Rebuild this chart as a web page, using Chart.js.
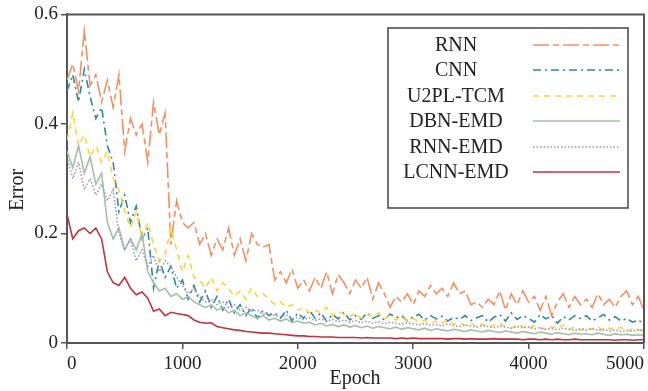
<!DOCTYPE html>
<html>
<head>
<meta charset="utf-8">
<script src="https://cdn.jsdelivr.net/npm/chart.js@4"></script>
<style>
  html, body { margin: 0; padding: 0; background: #fff; }
  #wrap { width: 648px; height: 391px; position: relative; }
</style>
</head>
<body>
<div id="wrap"><canvas id="grafico"></canvas></div>
<script>
// epochs sampled every 50
const epocas = [
    0, 50, 100, 150, 200, 250, 300, 350, 400, 450,
    500, 550, 600, 650, 700, 750, 800, 850, 900, 950,
    1000, 1050, 1100, 1150, 1200, 1250, 1300, 1350, 1400, 1450,
    1500, 1550, 1600, 1650, 1700, 1750, 1800, 1850, 1900, 1950,
    2000, 2050, 2100, 2150, 2200, 2250, 2300, 2350, 2400, 2450,
    2500, 2550, 2600, 2650, 2700, 2750, 2800, 2850, 2900, 2950,
    3000, 3050, 3100, 3150, 3200, 3250, 3300, 3350, 3400, 3450,
    3500, 3550, 3600, 3650, 3700, 3750, 3800, 3850, 3900, 3950,
    4000, 4050, 4100, 4150, 4200, 4250, 4300, 4350, 4400, 4450,
    4500, 4550, 4600, 4650, 4700, 4750, 4800, 4850, 4900, 4950,
    5000
];

const nomes = ['RNN', 'CNN', 'U2PL-TCM', 'DBN-EMD', 'RNN-EMD', 'LCNN-EMD'];

const erroRNN = [
    0.48, 0.51, 0.46, 0.57, 0.47, 0.49, 0.44, 0.48, 0.43, 0.49,
    0.35, 0.41, 0.38, 0.40, 0.33, 0.44, 0.38, 0.42, 0.18, 0.26,
    0.22, 0.21, 0.22, 0.18, 0.20, 0.16, 0.19, 0.17, 0.21, 0.16,
    0.19, 0.15, 0.20, 0.18, 0.175, 0.18, 0.115, 0.13, 0.11, 0.135,
    0.10, 0.115, 0.095, 0.12, 0.10, 0.13, 0.09, 0.125, 0.11, 0.09,
    0.115, 0.10, 0.12, 0.08, 0.11, 0.09, 0.065, 0.085, 0.075, 0.09,
    0.07, 0.095, 0.085, 0.105, 0.09, 0.10, 0.085, 0.11, 0.09, 0.095,
    0.07, 0.075, 0.065, 0.08, 0.07, 0.095, 0.06, 0.09, 0.07, 0.095,
    0.075, 0.085, 0.06, 0.085, 0.05, 0.075, 0.09, 0.065, 0.085, 0.07,
    0.08, 0.065, 0.09, 0.07, 0.08, 0.065, 0.085, 0.095, 0.07, 0.085,
    0.06
];
const erroCNN = [
    0.46, 0.49, 0.44, 0.50, 0.45, 0.41, 0.43, 0.36, 0.33, 0.24,
    0.27, 0.22, 0.25, 0.19, 0.21, 0.10, 0.15, 0.12, 0.14, 0.10,
    0.115, 0.08, 0.105, 0.075, 0.095, 0.065, 0.085, 0.06, 0.08, 0.055,
    0.07, 0.05, 0.065, 0.045, 0.06, 0.05, 0.055, 0.045, 0.06, 0.04,
    0.055, 0.045, 0.06, 0.045, 0.055, 0.04, 0.052, 0.044, 0.056, 0.042,
    0.05, 0.043, 0.055, 0.045, 0.05, 0.042, 0.053, 0.046, 0.05, 0.04,
    0.048, 0.052, 0.042, 0.05, 0.044, 0.049, 0.04, 0.047, 0.043, 0.05,
    0.041, 0.046, 0.05, 0.038, 0.047, 0.052, 0.04, 0.055, 0.043, 0.05,
    0.045, 0.038, 0.052, 0.044, 0.05, 0.036, 0.048, 0.042, 0.05, 0.045,
    0.05, 0.04, 0.046, 0.052, 0.042, 0.048, 0.04, 0.045, 0.038, 0.042,
    0.035
];
const erroU2PL = [
    0.37, 0.42, 0.36, 0.38, 0.34, 0.36, 0.33, 0.35, 0.30, 0.28,
    0.24, 0.21, 0.24, 0.19, 0.22, 0.18, 0.15, 0.16, 0.21, 0.17,
    0.13, 0.16, 0.12, 0.115, 0.10, 0.12, 0.095, 0.11, 0.10, 0.085,
    0.095, 0.08, 0.10, 0.085, 0.09, 0.08, 0.07, 0.075, 0.065, 0.07,
    0.06, 0.065, 0.055, 0.06, 0.055, 0.065, 0.05, 0.058, 0.052, 0.048,
    0.055, 0.045, 0.052, 0.048, 0.055, 0.044, 0.05, 0.042, 0.048, 0.04,
    0.045, 0.038, 0.042, 0.035, 0.04, 0.036, 0.042, 0.034, 0.038, 0.032,
    0.036, 0.03, 0.035, 0.028, 0.033, 0.036, 0.03, 0.027, 0.034, 0.03,
    0.026, 0.032, 0.028, 0.024, 0.03, 0.026, 0.033, 0.025, 0.029, 0.023,
    0.028, 0.025, 0.03, 0.022, 0.027, 0.024, 0.029, 0.021, 0.026, 0.023,
    0.025
];
const erroDBN = [
    0.35, 0.32, 0.36, 0.31, 0.34, 0.29, 0.31, 0.22, 0.19, 0.21,
    0.17, 0.19, 0.17, 0.20, 0.13, 0.11, 0.095, 0.10, 0.085, 0.09,
    0.08, 0.085, 0.075, 0.07, 0.065, 0.07, 0.06, 0.065, 0.055, 0.06,
    0.05, 0.055, 0.05, 0.045, 0.05, 0.042, 0.045, 0.04, 0.044, 0.037,
    0.04, 0.036, 0.038, 0.033, 0.036, 0.031, 0.034, 0.03, 0.033, 0.029,
    0.032, 0.028, 0.031, 0.027, 0.03, 0.028, 0.026, 0.029, 0.025, 0.028,
    0.026, 0.024, 0.027, 0.023, 0.026, 0.024, 0.022, 0.025, 0.023, 0.021,
    0.024, 0.022, 0.02, 0.023, 0.021, 0.019, 0.022, 0.02, 0.018, 0.021,
    0.019, 0.017, 0.02, 0.018, 0.016, 0.019, 0.017, 0.015, 0.018, 0.016,
    0.017, 0.015, 0.018, 0.016, 0.014, 0.017, 0.015, 0.016, 0.014, 0.015,
    0.014
];
const erroRNNEMD = [
    0.34, 0.30, 0.33, 0.28, 0.30, 0.27, 0.29, 0.26, 0.28, 0.20,
    0.17, 0.19, 0.15, 0.17, 0.14, 0.16, 0.13, 0.15, 0.14, 0.12,
    0.105, 0.09, 0.10, 0.085, 0.075, 0.08, 0.07, 0.075, 0.065, 0.07,
    0.06, 0.065, 0.058, 0.06, 0.052, 0.055, 0.05, 0.048, 0.052, 0.045,
    0.047, 0.043, 0.046, 0.041, 0.044, 0.04, 0.043, 0.039, 0.042, 0.038,
    0.041, 0.037, 0.04, 0.036, 0.039, 0.035, 0.038, 0.036, 0.034, 0.037,
    0.035, 0.033, 0.036, 0.032, 0.034, 0.031, 0.035, 0.032, 0.03, 0.033,
    0.031, 0.029, 0.032, 0.03, 0.028, 0.031, 0.029, 0.027, 0.03, 0.028,
    0.029, 0.026, 0.028, 0.025, 0.027, 0.024, 0.027, 0.025, 0.023, 0.026,
    0.024, 0.026, 0.023, 0.025, 0.022, 0.024, 0.021, 0.023, 0.022, 0.024,
    0.022
];
const erroLCNN = [
    0.235, 0.19, 0.205, 0.21, 0.20, 0.21, 0.19, 0.13, 0.11, 0.105,
    0.12, 0.10, 0.088, 0.093, 0.082, 0.058, 0.062, 0.05, 0.056, 0.054,
    0.052, 0.05, 0.042, 0.038, 0.036, 0.037, 0.03, 0.028, 0.026, 0.024,
    0.023, 0.021, 0.02, 0.019, 0.018, 0.018, 0.017, 0.016, 0.015, 0.014,
    0.013, 0.013, 0.012, 0.012, 0.011, 0.011, 0.011, 0.01, 0.01, 0.01,
    0.01, 0.009, 0.01, 0.009, 0.009, 0.009, 0.009, 0.008, 0.009, 0.008,
    0.009, 0.008, 0.008, 0.008, 0.008, 0.008, 0.007, 0.008, 0.008, 0.007,
    0.008, 0.007, 0.007, 0.007, 0.008, 0.007, 0.007, 0.007, 0.007, 0.006,
    0.007, 0.007, 0.006, 0.007, 0.006, 0.007, 0.006, 0.006, 0.007, 0.006,
    0.006, 0.006, 0.006, 0.006, 0.006, 0.005, 0.006, 0.006, 0.005, 0.006,
    0.006
];

const cores = ['#f39063', '#2a8a9a', '#ffd43a', '#a3c0a5', '#a190c8', '#c4323c'];
const tracos = [[16, 4, 6, 4], [8, 4, 2, 4], [6, 5], [], [1.5, 2], []];
const series = [erroRNN, erroCNN, erroU2PL, erroDBN, erroRNNEMD, erroLCNN];

const fonte = 'Liberation Serif, Times New Roman, serif';
const corEixo = '#555555';

const datasets = series.map((s, i) => ({
    label: nomes[i],
    data: s.map((v, k) => ({ x: epocas[k], y: v })),
    borderColor: cores[i],
    borderDash: tracos[i],
    borderWidth: 1.6,
    pointRadius: 0,
    tension: 0,
    fill: false,
    order: series.length - i
}));

// fundo branco, moldura, titulos e legenda desenhados a mao
const pluginExtras = {
    id: 'extras',
    beforeDraw(chart) {
        const ctx = chart.ctx;
        ctx.save();
        ctx.fillStyle = '#fff';
        ctx.fillRect(0, 0, chart.width, chart.height);
        ctx.restore();
    },
    afterDraw(chart) {
        const ctx = chart.ctx;
        const a = chart.chartArea;
        ctx.save();
        // moldura de cima e da direita
        ctx.strokeStyle = corEixo;
        ctx.lineWidth = 2;
        ctx.beginPath();
        ctx.moveTo(a.left, a.top);
        ctx.lineTo(a.right, a.top);
        ctx.lineTo(a.right, a.bottom);
        ctx.stroke();

        // titulos dos eixos
        ctx.fillStyle = '#222';
        ctx.font = '20px ' + fonte;
        ctx.textAlign = 'center';
        ctx.textBaseline = 'middle';
        ctx.fillText('Epoch', 355, 379);
        ctx.translate(18, 190);
        ctx.rotate(-Math.PI / 2);
        ctx.fillText('Error', 0, 0);
        ctx.restore();

        // legenda
        ctx.save();
        ctx.fillStyle = '#fff';
        ctx.fillRect(388, 28, 240, 180);
        ctx.strokeStyle = '#444';
        ctx.lineWidth = 1.5;
        ctx.strokeRect(388, 28, 240, 180);
        const linhas = [45, 70, 96, 121, 147, 172];
        ctx.font = '20px ' + fonte;
        ctx.textAlign = 'center';
        ctx.textBaseline = 'middle';
        nomes.forEach((n, i) => {
            ctx.fillStyle = '#222';
            ctx.fillText(n, 456, linhas[i] + 1);
            ctx.strokeStyle = cores[i];
            ctx.lineWidth = 1.5;
            ctx.setLineDash(tracos[i]);
            ctx.beginPath();
            ctx.moveTo(533, linhas[i]);
            ctx.lineTo(620, linhas[i]);
            ctx.stroke();
        });
        ctx.restore();
    }
};

new Chart(document.getElementById('grafico'), {
    type: 'line',
    data: { datasets: datasets },
    options: {
        responsive: true,
        maintainAspectRatio: false,
        animation: false,
        layout: { padding: { top: 12, right: 4, left: 0, bottom: 0 } },
        plugins: {
            legend: { display: false },
            tooltip: { enabled: false }
        },
        scales: {
            x: {
                type: 'linear',
                min: 0,
                max: 5000,
                afterFit: (s) => { s.height = 48; },
                ticks: {
                    stepSize: 1000,
                    align: 'inner',
                    padding: 4,
                    color: '#222',
                    font: { family: fonte, size: 19 },
                    maxRotation: 0,
                    callback: (v) => String(v)
                },
                grid: { drawOnChartArea: false, drawTicks: true, tickLength: 6, color: corEixo, lineWidth: 1.5 },
                border: { color: corEixo, width: 2 }
            },
            y: {
                min: 0,
                max: 0.6,
                afterFit: (s) => { s.width = 67; },
                ticks: {
                    stepSize: 0.2,
                    padding: 3,
                    color: '#222',
                    font: { family: fonte, size: 19 },
                    callback: (v) => v === 0 ? '0' : v.toFixed(1)
                },
                grid: { drawOnChartArea: false, drawTicks: true, tickLength: 6, color: corEixo, lineWidth: 1.5 },
                border: { color: corEixo, width: 2 }
            }
        }
    },
    plugins: [pluginExtras]
});
</script>
</body>
</html>
